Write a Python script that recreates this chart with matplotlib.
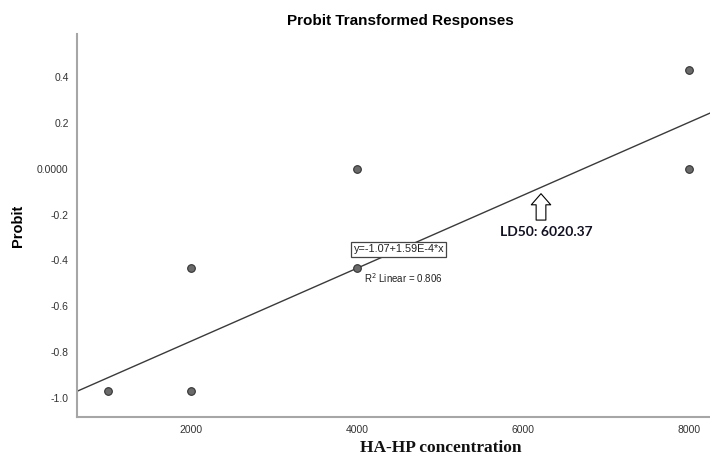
import numpy as np
import matplotlib
matplotlib.use('Agg')
import matplotlib.pyplot as plt

# dati
conc   = [1000, 2000, 2000, 4000, 4000, 8000, 8000]
probit = [-0.967, -0.967, -0.431, -0.431, 0.0, 0.0, 0.431]

intercept = -1.07
slope     = 1.59e-4
ld50_x    = 6217
ld50_lab  = 'LD50: 6020.37'

yticks  = [0.4, 0.2, 0.0, -0.2, -0.4, -0.6, -0.8, -1.0]
ylabels = ['0.4', '0.2', '0.0000', '-0.2', '-0.4', '-0.6', '-0.8', '-1.0']
xticks  = [2000, 4000, 6000, 8000]

plt.rcParams['font.family'] = ['Liberation Sans', 'DejaVu Sans']

fig = plt.figure(figsize=(7.1, 4.57), dpi=100)
ax = fig.add_axes([77/710, 40.3/457, 633/710, 382.7/457])

xmin, xmax = 627, 8253
ax.set_xlim(xmin, xmax)
ax.set_ylim(-1.081, 0.587)

# retta di regressione
xl = np.array([xmin, xmax])
ax.plot(xl, intercept + slope*xl, color='#3a3a3a', lw=1.0, zorder=2)

# punti
ax.plot(conc, probit, 'o', ms=5.5, mfc='#6a6a6a', mec='#333333', mew=0.8, zorder=3)

ax.set_yticks(yticks)
ax.set_yticklabels(ylabels)
ax.set_xticks(xticks)
ax.tick_params(length=0, labelsize=7.5, colors='#333333', pad=6)

for s in ['top', 'right']:
	ax.spines[s].set_visible(False)
for s in ['left', 'bottom']:
	ax.spines[s].set_color('#a6a6a6')
	ax.spines[s].set_linewidth(1.5)

# etichette
fig.text(400/710, 1 - 21/457, 'Probit Transformed Responses', ha='center', va='center',
		 fontsize=11, fontweight='bold')
fig.text(18/710, 1 - 226/457, 'Probit', rotation=90, ha='center', va='center',
		 fontsize=10.5, fontweight='bold')
fig.text(441/710, 1 - 448/457, 'HA-HP concentration', ha='center', va='center',
		 fontsize=12.5, fontweight='bold', family='Liberation Serif', color='#111111')

# equazione e R2
ax.text(4506, -0.352, 'y=-1.07+1.59E-4*x', ha='center', va='center', fontsize=7.8,
		color='#222222', bbox=dict(boxstyle='square,pad=0.2', fc='white', ec='#444444', lw=0.9),
		zorder=4)
ax.text(4084, -0.478, r'R$^2$ Linear = 0.806', ha='left', va='center', fontsize=7,
		color='#222222')

# freccia LD50
ax.annotate('', xy=(ld50_x, -0.109), xytext=(0, -19), textcoords='offset points',
			arrowprops=dict(arrowstyle='simple,head_width=14,head_length=8,tail_width=7',
							mutation_scale=1, fc='white', ec='black', lw=0.8,
							shrinkA=0, shrinkB=0))
fig.text(546/710, 1 - 232/457, ld50_lab, ha='center', va='center', fontsize=10,
		 fontweight='bold', family=['Lato', 'DejaVu Sans'], color='#111122')

fig.savefig('out.png', dpi=100)
